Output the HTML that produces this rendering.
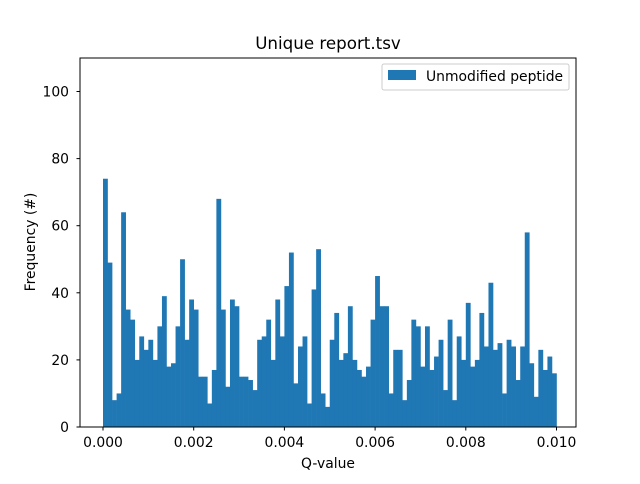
<!DOCTYPE html>
<html><head><meta charset="utf-8"><style>
body{margin:0;background:#fff;font-family:"DejaVu Sans","Liberation Sans",sans-serif}
svg text{font-family:"DejaVu Sans","Liberation Sans",sans-serif}
</style></head><body>
<svg id="chart" width="640" height="480" xmlns="http://www.w3.org/2000/svg">
<rect width="640" height="480" fill="#fff"/>
<text x="328" y="49" font-size="16.7" text-anchor="middle">Unique report.tsv</text>
<g id="bars"></g>
<rect x="80" y="58" width="496" height="369" fill="none" stroke="#000" stroke-width="1"/>
<g id="xticks"></g>
<g id="yticks"></g>
<text x="328" y="468" font-size="13.9" text-anchor="middle">Q-value</text>
<text x="35" y="242" font-size="13.9" text-anchor="middle" transform="rotate(-90 35 242)">Frequency (#)</text>
<g>
<rect x="382" y="64" width="187" height="26" rx="2" fill="#fff" stroke="#ccc" stroke-width="1"/>
<rect x="388" y="70" width="28" height="10" fill="#1f77b4"/>
<text x="426" y="81" font-size="13.9">Unmodified peptide</text>
</g>
</svg>
<script>
const binStart = 0;
const binWidth = 0.0001;
const counts = [74,49,8,10,64,35,32,20,27,23,26,20,30,39,18,19,30,50,26,38,35,15,15,7,17,68,35,12,38,36,15,15,14,11,26,27,32,20,38,27,42,52,13,24,27,7,41,53,10,6,26,34,20,22,36,20,17,15,18,32,45,36,36,10,23,23,8,14,32,30,18,30,17,21,26,11,32,8,27,20,37,18,20,34,24,43,23,25,10,26,24,14,24,58,19,9,23,17,21,16];
const xTickVals = [0,0.002,0.004,0.006,0.008,0.010];
const xTickLabels = ["0.000","0.002","0.004","0.006","0.008","0.010"];
const yTickVals = [0,20,40,60,80,100];
const NS="http://www.w3.org/2000/svg";
function x(v){return 103+v*45350;}
function y(v){return 427-v*3.355;}
const bars=document.getElementById('bars');
counts.forEach((c,i)=>{
  const x0=x(binStart+i*binWidth), x1=x(binStart+(i+1)*binWidth);
  const r=document.createElementNS(NS,'rect');
  r.setAttribute('x',x0);r.setAttribute('width',x1-x0+0.3);
  r.setAttribute('y',y(c));r.setAttribute('height',y(0)-y(c));
  r.setAttribute('fill','#1f77b4');
  
  
  bars.appendChild(r);
});
const xt=document.getElementById('xticks');
xTickVals.forEach((v,i)=>{
  const l=document.createElementNS(NS,'line');
  l.setAttribute('x1',x(v));l.setAttribute('x2',x(v));l.setAttribute('y1',427);l.setAttribute('y2',430.5);l.setAttribute('stroke','#000');
  
  
  xt.appendChild(l);
  const t=document.createElementNS(NS,'text');
  t.setAttribute('x',x(v));t.setAttribute('y',447);t.setAttribute('font-size','13.9');t.setAttribute('text-anchor','middle');
  t.textContent=xTickLabels[i];
  
  
  xt.appendChild(t);
});
const yt=document.getElementById('yticks');
yTickVals.forEach(v=>{
  const l=document.createElementNS(NS,'line');
  l.setAttribute('x1',76.5);l.setAttribute('x2',80);l.setAttribute('y1',y(v));l.setAttribute('y2',y(v));l.setAttribute('stroke','#000');
  
  
  yt.appendChild(l);
  const t=document.createElementNS(NS,'text');
  t.setAttribute('x',69);t.setAttribute('y',y(v)+5);t.setAttribute('font-size','13.9');t.setAttribute('text-anchor','end');
  t.textContent=v;
  
  
  yt.appendChild(t);
});
</script>
</body></html>
